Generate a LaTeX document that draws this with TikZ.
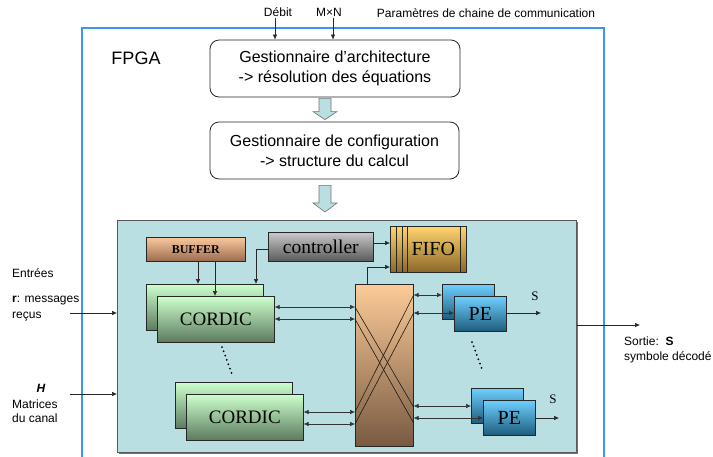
\documentclass[tikz,border=0pt]{standalone}
\usepackage{fontspec}
\setmainfont{Liberation Sans}
\newfontfamily\tms{Liberation Serif}
\usetikzlibrary{arrows.meta,calc}
\definecolor{teal0}{HTML}{BADFE3}
\definecolor{fpgablue}{HTML}{3A96F5}
\definecolor{bufT}{HTML}{FAC89E}
\definecolor{bufB}{HTML}{9C6B4E}
\definecolor{ctlT}{HTML}{C8C8C8}
\definecolor{ctlB}{HTML}{5A5A5A}
\definecolor{fifoT}{HTML}{FFD56E}
\definecolor{fifoB}{HTML}{8B6728}
\definecolor{corT}{HTML}{CCFFCC}
\definecolor{corB}{HTML}{5C7A5E}
\definecolor{xbT}{HTML}{FCCB98}
\definecolor{xbB}{HTML}{785A42}
\definecolor{peT}{HTML}{6FD0FF}
\definecolor{peB}{HTML}{1E5C7C}
\tikzset{
  gest/.style={draw=black!85, line width=0.8pt, rounded corners=9pt, fill=white, align=center,
    font=\fontsize{16}{20}\selectfont, inner sep=0pt, minimum width=250pt, minimum height=57pt},
  blk/.style={draw=black!85, line width=0.6pt, inner sep=0pt, anchor=north west},
  cordicbox/.style={blk, top color=corT, bottom color=corB, minimum width=117pt, minimum height=46pt,
    font=\tms\fontsize{19}{22}\selectfont},
  pebox/.style={blk, top color=peT, bottom color=peB, minimum width=52pt, minimum height=35pt,
    font=\tms\fontsize{20}{22}\selectfont},
  arr/.style={draw=black!85, line width=0.6pt, -{Latex[length=5pt,width=4.5pt]}},
  darr/.style={draw=black!80, line width=0.6pt, {Latex[length=5pt,width=4.5pt]}-{Latex[length=5pt,width=4.5pt]}},
  fat/.style={draw=black!55, line width=0.6pt, fill=teal0},
  lbl/.style={font=\fontsize{12}{15}\selectfont, inner sep=0pt},
  slbl/.style={font=\tms\fontsize{13}{15}\selectfont, inner sep=0pt},
  dots/.style={line width=2pt, dash pattern=on 0pt off 4.6pt, line cap=round},
  xline/.style={draw=black!90, line width=0.6pt}
}
\begin{document}
\begin{tikzpicture}[x=1pt,y=-1pt]
\useasboundingbox (0,0) rectangle (713,456);

% FPGA frame
\draw[fpgablue, line width=1.8pt] (82,460) -- (82,28) -- (604,28) -- (604,460);
\node[font=\fontsize{18}{20}\selectfont, inner sep=0pt] (fpga) at (136,58) {FPGA};

% top parameters
\node[lbl] (debit) at (278,12) {Débit};
\node[lbl] (mxn) at (329,12) {M×N};
\node[lbl] (param) at (486,13) {Paramètres de chaine de communication};

% managers
\node[gest] (arch) at (335,68.5) {Gestionnaire d’architecture\\-> résolution des équations};
\node[gest, minimum width=249pt] (conf) at (334.5,150.5) {Gestionnaire de configuration\\-> structure du calcul};
\coordinate (dtop) at (275,18);
\coordinate (mtop) at (333,18);
\draw[arr] (dtop) -- (arch.north -| dtop);
\draw[arr] (mtop) -- (arch.north -| mtop);

% teal area
\fill[black!55] (118.5,221.5) rectangle (577.5,453.5);
\node[blk, fill=teal0, draw=black!65, line width=0.8pt, minimum width=459pt, minimum height=232pt] (teal) at (117,220) {};

% fat arrows
\draw[fat] let \p1=(arch.south), \p2=(conf.north) in
  (\x1-16pt,\y1-1pt) -- (\x1-4pt,\y1-1pt) -- (\x1-4pt,\y2+10pt) -- (\x1+2pt,\y2+10pt) -- (\x1-10pt,\y2+2pt)
  -- (\x1-22pt,\y2+10pt) -- (\x1-16pt,\y2+10pt) -- cycle;
\draw[fat] let \p1=(conf.south), \p2=(teal.north) in
  (\x1-15.5pt,\y1-6pt) -- (\x1-3.5pt,\y1-6pt) -- (\x1-3.5pt,\y2+17pt) -- (\x1+2.5pt,\y2+17pt) -- (\x1-9.5pt,\y2+8pt)
  -- (\x1-21.5pt,\y2+17pt) -- (\x1-15.5pt,\y2+17pt) -- cycle;

% buffer, controller, fifo
\node[blk, top color=bufT, bottom color=bufB, minimum width=99pt, minimum height=24pt,
  font=\tms\bfseries\fontsize{12}{14}\selectfont] (buffer) at (146,237) {BUFFER};
\node[blk, top color=ctlT, bottom color=ctlB, minimum width=105pt, minimum height=29pt,
  font=\tms\fontsize{19.5}{22}\selectfont] (ctrl) at (268,232) {controller};
\node[blk, top color=fifoT, bottom color=fifoB, minimum width=76pt, minimum height=46pt,
  font=\tms\fontsize{20}{22}\selectfont] (fifo) at (390,226) {\hspace*{10pt}FIFO};
\foreach \d in {6,12,17.5,70}
  \draw[black!85, line width=0.6pt] ([xshift=\d pt]fifo.north west) -- ([xshift=\d pt]fifo.south west);

% CORDIC blocks
\node[cordicbox] (cordic1b) at (146,284) {};
\node[cordicbox] (cordic1) at (157,296) {CORDIC};
\node[cordicbox] (cordic2b) at (175,382) {};
\node[cordicbox] (cordic2) at (186,394) {CORDIC};

% crossbar
\node[blk, top color=xbT, bottom color=xbB, minimum width=58pt, minimum height=162pt] (xbar) at (355,284) {};

% PE blocks
\node[pebox] (pe1b) at (442,284) {};
\node[pebox] (pe1) at (454,296) {PE};
\node[pebox] (pe2b) at (471,388) {};
\node[pebox] (pe2) at (483,400) {PE};

% crossbar internal lines
\draw[xline] (xbar.west |- 0,307) -- (xbar.east |- 0,407);
\draw[xline] (xbar.west |- 0,319) -- (xbar.east |- 0,423);
\draw[xline] (xbar.west |- 0,412) -- (xbar.east |- 0,295);
\draw[xline] (xbar.west |- 0,424) -- (xbar.east |- 0,313);

% internal connections
\draw[arr] (buffer.south -| 198,0) -- (cordic1b.north -| 198,0);
\draw[arr] (buffer.south -| 215,0) -- (cordic1.north -| 215,0);
\draw[arr] (ctrl.west |- 0,249) -| (cordic1b.north -| 256,0);
\draw[arr] (ctrl.east |- 0,243) -- (fifo.west |- 0,243);
\draw[arr] (xbar.north -| 367,0) |- (fifo.west |- 0,267);

\draw[darr] (cordic1.east |- 0,307) -- (xbar.west |- 0,307);
\draw[darr] (cordic1.east |- 0,319) -- (xbar.west |- 0,319);
\draw[darr] (cordic2.east |- 0,412) -- (xbar.west |- 0,412);
\draw[darr] (cordic2.east |- 0,424) -- (xbar.west |- 0,424);

\draw[darr] (xbar.east |- 0,295) -- (pe1b.west |- 0,295);
\draw[darr] (xbar.east |- 0,313) -- (pe1.west |- 0,313);
\draw[darr] (xbar.east |- 0,406) -- (pe2b.west |- 0,406);
\draw[darr] (xbar.east |- 0,418) -- (pe2.west |- 0,418);

% PE outputs
\coordinate (s1) at (541,313);
\coordinate (s2) at (559,418);
\draw[arr] (pe1.east |- s1) -- (s1);
\draw[arr] (pe2.east |- s2) -- (s2);
\node[slbl] (s1l) at (535,296) {S};
\node[slbl] (s2l) at (553,399) {S};

% dots
\coordinate (d1a) at (222,347);
\coordinate (d1b) at (233,377);
\draw[dots] (d1a) -- (d1b);
\coordinate (d2a) at (472,342);
\coordinate (d2b) at (483,372);
\draw[dots] (d2a) -- (d2b);

% external inputs / output
\coordinate (rin) at (70,313);
\coordinate (hin) at (70,394);
\draw[arr] (rin) -- (teal.west |- rin);
\draw[arr] (hin) -- (teal.west |- hin);
\coordinate (sout) at (640,325);
\draw[arr] (teal.east |- sout) -- (sout);

\node[lbl, anchor=west] (entrees) at (12,273) {Entrées};
\node[lbl, anchor=west] (rlbl) at (12,301) {\textbf{r}: messages};
\node[lbl, anchor=west] (recus) at (12,317) {reçus};
\node[lbl] (hlbl) at (41,388) {\textbf{\textit{H}}};
\node[lbl, anchor=west] (matr) at (12,404) {Matrices};
\node[lbl, anchor=west] (canal) at (12,418) {du canal};

\node[lbl, anchor=west] (sortie) at (624,341) {Sortie:\ \ \textbf{S}};
\node[lbl, anchor=west] (symb) at (624,357) {symbole décodé};
\end{tikzpicture}
\end{document}
